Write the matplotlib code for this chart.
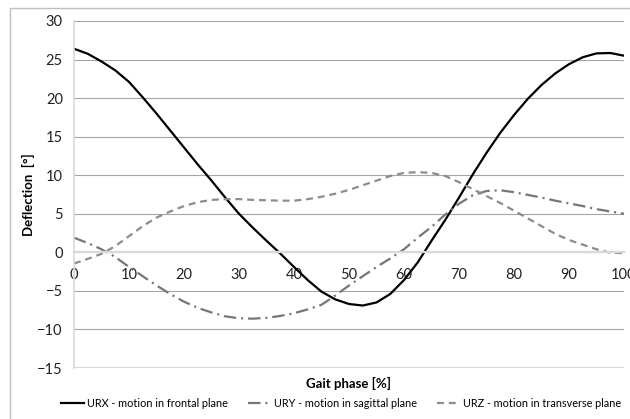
import numpy as np
import matplotlib
matplotlib.use("Agg")
import matplotlib.pyplot as plt
from matplotlib.patches import Rectangle

# gait phase in %, every 2.5 %
phase = [0, 2.5, 5, 7.5, 10, 12.5, 15, 17.5, 20, 22.5, 25, 27.5, 30, 32.5, 35, 37.5, 40,
         42.5, 45, 47.5, 50, 52.5, 55, 57.5, 60, 62.5, 65, 67.5, 70, 72.5, 75, 77.5, 80,
         82.5, 85, 87.5, 90, 92.5, 95, 97.5, 100]

# deflection in degrees
urx = [26.4, 25.75, 24.75, 23.6, 22.1, 20.1, 18.0, 15.8, 13.6, 11.4, 9.3, 7.1, 5.0, 3.2,
       1.5, -0.15, -1.9, -3.6, -5.1, -6.1, -6.7, -6.9, -6.5, -5.4, -3.6, -1.3, 1.5, 4.2,
       7.1, 10.1, 12.9, 15.5, 17.8, 19.9, 21.7, 23.2, 24.4, 25.3, 25.8, 25.85, 25.5]
ury = [1.9, 1.2, 0.4, -0.6, -1.9, -3.1, -4.3, -5.4, -6.4, -7.2, -7.8, -8.3, -8.55, -8.6,
       -8.5, -8.25, -7.9, -7.4, -6.8, -5.6, -4.3, -3.1, -1.9, -0.8, 0.4, 1.9, 3.3, 4.9,
       6.3, 7.4, 7.95, 8.05, 7.8, 7.45, 7.1, 6.7, 6.35, 6.0, 5.6, 5.3, 5.0]
urz = [-1.45, -0.85, -0.2, 0.8, 2.1, 3.4, 4.5, 5.3, 6.0, 6.5, 6.8, 6.9, 6.9, 6.8, 6.75,
       6.7, 6.7, 6.9, 7.2, 7.6, 8.1, 8.7, 9.3, 9.9, 10.3, 10.4, 10.3, 9.9, 9.1, 8.2, 7.3,
       6.4, 5.4, 4.4, 3.4, 2.4, 1.6, 1.0, 0.4, -0.05, -0.1]

labels = ["URX - motion in frontal plane",
          "URY - motion in sagittal plane",
          "URZ - motion in transverse plane"]

plt.rcParams['font.family'] = ['Lato', 'DejaVu Sans']
plt.rcParams['lines.scale_dashes'] = False

fig = plt.figure(figsize=(6.3, 4.19), dpi=100)
ax = fig.add_axes([74/630, 1 - 368/419, 550/630, 347/419])

ax.plot(phase, urx, color="black", lw=1.6, label=labels[0])
ax.plot(phase, ury, color="#767676", lw=1.6, dashes=(9, 3.5, 1.5, 3.5), label=labels[1])
ax.plot(phase, urz, color="#8c8c8c", lw=1.6, dashes=(5, 3.5), label=labels[2])

ax.set_xlim(0, 100)
ax.set_ylim(-15, 30)
ax.set_xticks(np.arange(0, 101, 10))
ax.set_yticks(np.arange(-15, 31, 5))

ax.grid(axis="y", color="#a6a6a6", lw=0.8)
ax.set_axisbelow(True)
for s in ["top", "right"]:
    ax.spines[s].set_visible(False)
ax.spines["bottom"].set_position(("data", 0))
ax.spines["bottom"].set_color("#d9d9d9")
ax.spines["bottom"].set_linewidth(1.6)
ax.spines["left"].set_color("#d9d9d9")
ax.spines["left"].set_linewidth(1.2)
ax.axhline(-15, color="#d9d9d9", lw=2.2, zorder=0.5)

ax.tick_params(axis="both", length=0, labelsize=10.5, colors="#222222")
ax.tick_params(axis="x", pad=11)
ax.tick_params(axis="y", pad=8)

ax.set_ylabel("Deflection  [°]", fontsize=9.5, fontweight="bold")
ax.yaxis.set_label_coords(-39/550, 0.5)
ax.set_xlabel("Gait phase [%]", fontsize=9.5, fontweight="bold")
ax.xaxis.set_label_coords(0.5, -9/347)

leg = fig.legend(loc="center", bbox_to_anchor=(341/630, 1 - 403/419), ncol=3, frameon=False,
                 fontsize=7.8, handlelength=2.1, handletextpad=0.25, columnspacing=1.9)

fig.patches.append(Rectangle((10/630, -0.1), 1.0, 1.1 - 8/419, transform=fig.transFigure,
                             fill=False, edgecolor="#bfbfbf", lw=1.0))

fig.savefig("out.png", dpi=100)
